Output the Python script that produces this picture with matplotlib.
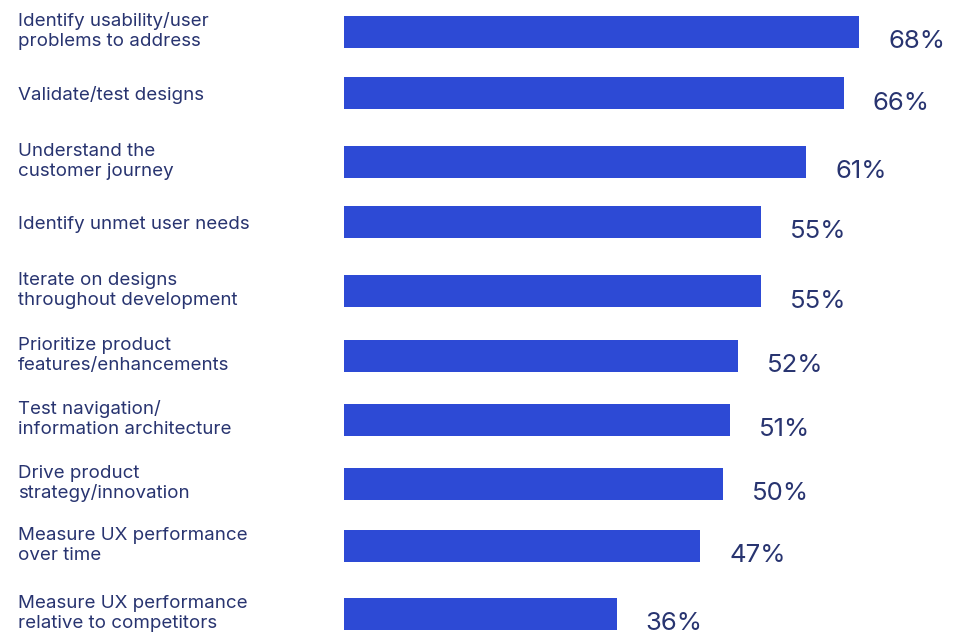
import matplotlib
matplotlib.use("Agg")
import matplotlib.pyplot as plt
from matplotlib.transforms import blended_transform_factory

# Data
categories = [
    "Identify usability/user\nproblems to address",
    "Validate/test designs",
    "Understand the\ncustomer journey",
    "Identify unmet user needs",
    "Iterate on designs\nthroughout development",
    "Prioritize product\nfeatures/enhancements",
    "Test navigation/\ninformation architecture",
    "Drive product\nstrategy/innovation",
    "Measure UX performance\nover time",
    "Measure UX performance\nrelative to competitors",
]
values = [68, 66, 61, 55, 55, 52, 51, 50, 47, 36]

# Layout (pixel units of the 954x633 canvas)
W, H = 954, 633
row_centers = [32, 93, 162, 222, 291, 356, 420, 484, 546, 614]
bar_height = 32
x0_px = 344            # where the bars start
px_per_pct = 7.575     # horizontal scale
label_x_px = 18
line_step = 19.8       # distance between baselines of wrapped labels

BAR_COLOR = "#2d4ad5"
TEXT_COLOR = "#283470"

plt.rcParams["font.family"] = ["Inter", "DejaVu Sans"]

fig = plt.figure(figsize=(W / 100, H / 100), dpi=100)
ax = fig.add_axes([x0_px / W, 0, (W - x0_px) / W, 1])
ax.set_xlim(0, (W - x0_px) / px_per_pct)
ax.set_ylim(H, 0)
ax.axis("off")

ax.barh(row_centers, values, height=bar_height, color=BAR_COLOR, left=0)

trans = blended_transform_factory(fig.transFigure, ax.transData)
for y, cat in zip(row_centers, categories):
    lines = cat.split("\n")
    first_baseline = y + 7 - (len(lines) - 1) * line_step * 0.65
    for i, line in enumerate(lines):
        ax.text(label_x_px / W, first_baseline + i * line_step, line,
                transform=trans, ha="left", va="baseline",
                fontsize=13.5, color=TEXT_COLOR)

for y, v in zip(row_centers, values):
    ax.annotate(f"{v}%", xy=(v, y), xytext=(29, -16.5), textcoords="offset pixels",
                ha="left", va="baseline", fontsize=18.5, color=TEXT_COLOR)

fig.savefig("out.png", dpi=100)
